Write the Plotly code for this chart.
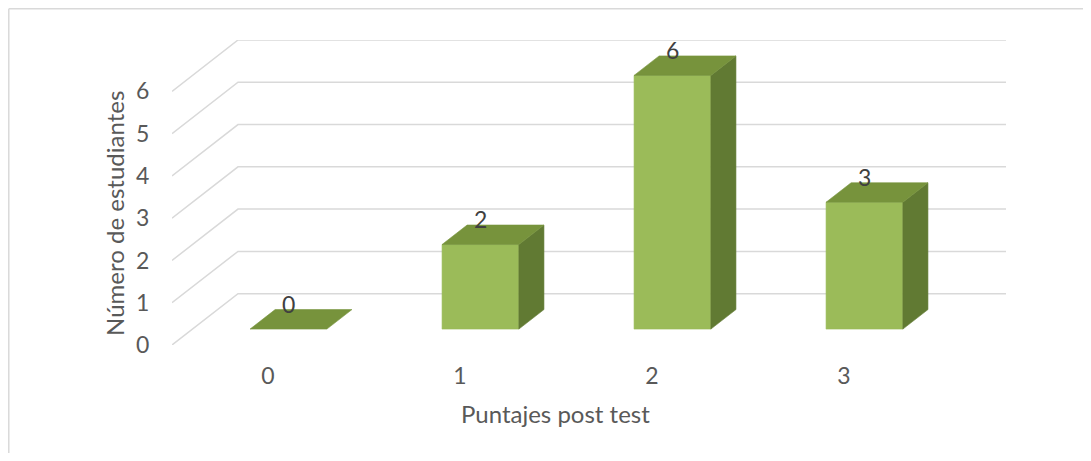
import plotly.graph_objects as go

# ---- data ----
categories = ["0", "1", "2", "3"]
values = [0, 2, 6, 3]
y_ticks = [0, 1, 2, 3, 4, 5, 6]
x_title = "Puntajes post test"
y_title = "Número de estudiantes"

# ---- oblique 3D projection parameters (in axis units) ----
DX = 66 / 192      # horizontal shift of the full depth, in category units
DY = 51.5 / 42.4   # vertical shift of the full depth, in value units
BAR_W = 0.40
D_FRONT = 0.31
D_BACK = 0.69

FRONT = "#9BBB59"
TOP = "#77933C"
SIDE = "#617A33"
GRID = "#D9D9D9"
TEXT = "#595959"
LABEL = "#404040"
FONT = "Lato"
FS = 23

xs = list(range(len(categories)))
x_lo = -0.5
x_hi = len(categories) - 0.5

fig = go.Figure()

# back wall gridlines + left wall diagonals
gx, gy = [], []
for t in y_ticks:
    gx += [x_lo, x_lo + DX, x_hi + DX, None]
    gy += [t, t + DY, t + DY, None]
fig.add_trace(go.Scatter(x=gx, y=gy, mode="lines",
                         line=dict(color=GRID, width=1.5),
                         hoverinfo="skip", showlegend=False))


def poly(px, py, color):
    fig.add_trace(go.Scatter(x=px + [px[0]], y=py + [py[0]], mode="lines",
                             fill="toself", fillcolor=color,
                             line=dict(color=color, width=0.6),
                             hoverinfo="skip", showlegend=False))


fx, fy = D_FRONT * DX, D_FRONT * DY
bx, by = D_BACK * DX, D_BACK * DY
for c, v in zip(xs, values):
    x0, x1 = c - BAR_W / 2, c + BAR_W / 2
    if v > 0:
        poly([x0 + fx, x1 + fx, x1 + fx, x0 + fx], [fy, fy, v + fy, v + fy], FRONT)
        poly([x1 + fx, x1 + bx, x1 + bx, x1 + fx], [fy, by, v + by, v + fy], SIDE)
    poly([x0 + fx, x1 + fx, x1 + bx, x0 + bx], [v + fy, v + fy, v + by, v + by], TOP)

annotations = []
for c, v in zip(xs, values):
    annotations.append(dict(x=c + fx, y=v + by, xref="x", yref="y", yshift=6,
                            text=str(v), showarrow=False,
                            xanchor="center", yanchor="middle",
                            font=dict(family=FONT, size=FS, color=LABEL)))

annotations.append(dict(x=0.4604, y=-0.223, xref="paper", yref="paper",
                        text=x_title, showarrow=False, xanchor="center", yanchor="middle",
                        font=dict(family=FONT, size=24, color=TEXT)))
annotations.append(dict(x=-0.0683, y=0.43, xref="paper", yref="paper",
                        text=y_title, showarrow=False, textangle=-90,
                        xanchor="center", yanchor="middle",
                        font=dict(family=FONT, size=24, color=TEXT)))

border = dict(color=GRID, width=1.5)
fig.update_layout(
    width=1075, height=445,
    margin=dict(l=164, r=77, t=32, b=108),
    paper_bgcolor="white", plot_bgcolor="white",
    showlegend=False,
    annotations=annotations,
    shapes=[
        dict(type="line", xref="paper", yref="paper",
             x0=-0.1957, x1=1.2, y0=1.1025, y1=1.1025, line=border, layer="below"),
        dict(type="line", xref="paper", yref="paper",
             x0=-0.1957, x1=-0.1957, y0=-0.5, y1=1.1025, line=border, layer="below"),
    ],
    xaxis=dict(range=[x_lo, x_hi + DX], tickvals=xs, ticktext=categories,
               showgrid=False, zeroline=False, showline=False,
               ticks="outside", ticklen=10, tickcolor="rgba(0,0,0,0)",
               tickfont=dict(family=FONT, size=FS, color=TEXT), fixedrange=True),
    yaxis=dict(range=[0, y_ticks[-1] + DY], tickvals=y_ticks,
               ticktext=[str(t) for t in y_ticks],
               showgrid=False, zeroline=False, showline=False,
               ticks="outside", ticklen=17, tickcolor="rgba(0,0,0,0)",
               tickfont=dict(family=FONT, size=FS, color=TEXT), fixedrange=True),
)

fig.write_html("out.html")
